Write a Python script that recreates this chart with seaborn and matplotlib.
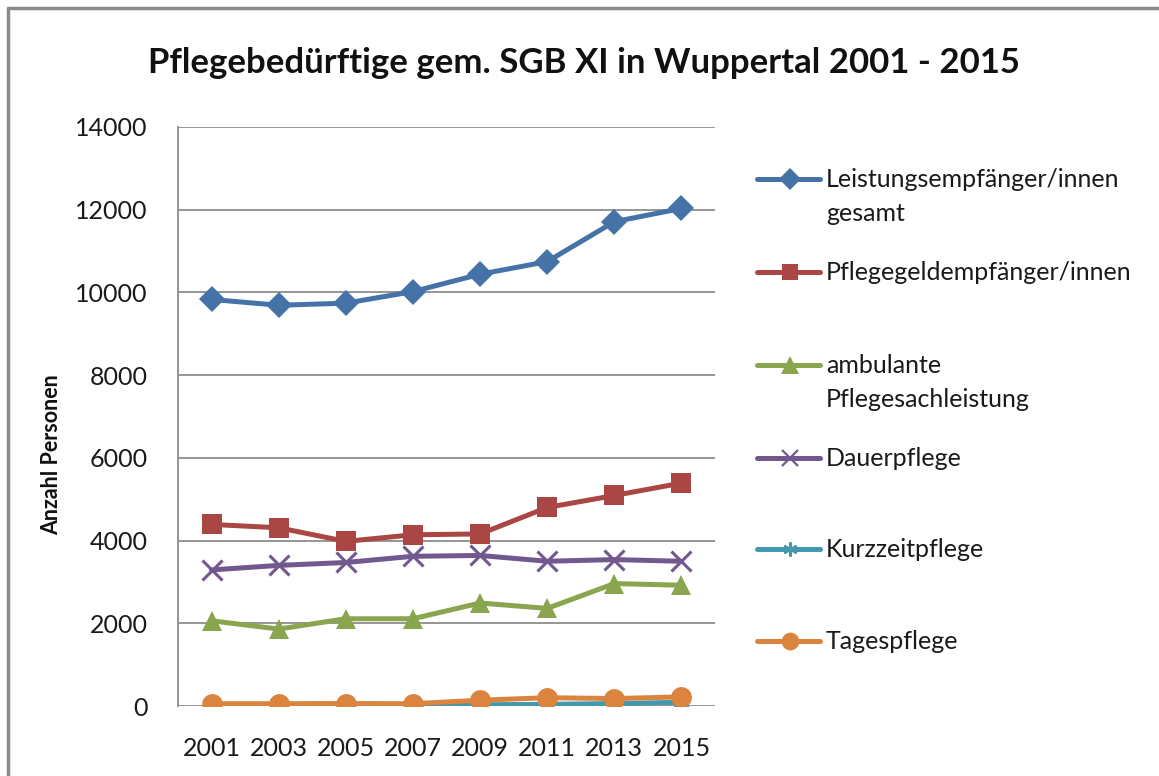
import numpy as np
import pandas as pd
import matplotlib
matplotlib.use("Agg")
import matplotlib.pyplot as plt
from matplotlib.lines import Line2D
import seaborn as sns

years = [2001, 2003, 2005, 2007, 2009, 2011, 2013, 2015]
series_names = [
    "Leistungsempfänger/innen\ngesamt",
    "Pflegegeldempfänger/innen",
    "ambulante\nPflegesachleistung",
    "Dauerpflege",
    "Kurzzeitpflege",
    "Tagespflege",
]
leistung = [9830, 9690, 9740, 10020, 10440, 10745, 11710, 12030]
pflegegeld = [4390, 4310, 3980, 4140, 4160, 4800, 5090, 5390]
ambulant = [2060, 1860, 2110, 2110, 2490, 2360, 2960, 2920]
dauer = [3290, 3400, 3470, 3620, 3640, 3500, 3540, 3500]
kurzzeit = [10, 10, 15, 20, 30, 40, 60, 90]
tages = [55, 55, 60, 55, 140, 200, 180, 220]
yticks = [0, 2000, 4000, 6000, 8000, 10000, 12000, 14000]

values = [leistung, pflegegeld, ambulant, dauer, kurzzeit, tages]
colors = ["#4572A7", "#AA4643", "#89A54E", "#71588F", "#4198AF", "#DB843D"]
markers = ["D", "s", "^", "x", (6, 2, 0), "o"]
msizes = [13, 14, 15, 14, 12, 15]

sns.set_theme(style="white")
plt.rcParams["font.family"] = ["Lato", "DejaVu Sans"]

fig = plt.figure(figsize=(11.59, 7.76), dpi=100)
ax = fig.add_axes([178 / 1159, 1 - 706 / 776, (715 - 178) / 1159, (706 - 127) / 776])

xidx = np.arange(len(years))
frames = []
for name, vals in zip(series_names, values):
    frames.append(pd.DataFrame({"x": xidx, "value": vals, "series": name}))
df = pd.concat(frames, ignore_index=True)

draw_order = [0, 1, 3, 2, 4, 5]
for i in draw_order:
    sub = df[df["series"] == series_names[i]]
    sns.lineplot(data=sub, x="x", y="value", ax=ax, color=colors[i],
                 marker=markers[i], markersize=msizes[i], linewidth=3.6,
                 markeredgewidth=2.2 if i in (3, 4) else 0,
                 markeredgecolor=colors[i], legend=False, zorder=3 + i)

ax.set_xlim(-0.5, len(years) - 0.5)
ax.set_ylim(0, 14000)
ax.set_xticks(xidx)
ax.set_xticklabels([str(y) for y in years], fontsize=18, color="#1a1a1a")
ax.set_yticks(yticks)
ax.set_yticklabels([str(v) for v in yticks], fontsize=18, color="#1a1a1a")
ax.tick_params(axis="x", length=0, pad=22)
ax.tick_params(axis="y", length=0, pad=22)
ax.grid(axis="y", color="#8c8c8c", linewidth=1.3)
ax.set_axisbelow(True)
for s in ["top", "right", "bottom"]:
    ax.spines[s].set_visible(False)
ax.spines["left"].set_color("#8c8c8c")
ax.spines["left"].set_linewidth(1.3)
ax.set_xlabel("")
ax.set_ylabel("Anzahl Personen", fontsize=15.5, fontweight="bold", color="#111111")
ax.yaxis.set_label_coords((62 - 178) / 537, (706 - 455) / 579)

fig.text(584 / 1159, 1 - 63 / 776, "Pflegebedürftige gem. SGB XI in Wuppertal 2001 - 2015",
         ha="center", va="center", fontsize=25, fontweight="bold", color="#111111")

# legend drawn manually (handles on first text line, equal spacing)
leg_y = [179, 272, 365, 458, 549, 641]
for i, yy in enumerate(leg_y):
    yf = 1 - yy / 776
    ln = Line2D([757 / 1159, 790 / 1159, 820 / 1159], [yf, yf, yf], transform=fig.transFigure,
                color=colors[i], linewidth=3.6, marker=markers[i], markevery=[1],
                markersize=msizes[i] * 0.85, markeredgewidth=1.6 if i in (3, 4) else 0,
                markeredgecolor=colors[i])
    fig.add_artist(ln)
    fig.text(826 / 1159, 1 - (yy - 11) / 776, series_names[i], ha="left", va="top",
             fontsize=18, color="#1a1a1a", linespacing=1.6)

# outer chart frame
fig.add_artist(Line2D([8 / 1159, 8 / 1159], [0, 1 - 8 / 776], transform=fig.transFigure,
                      color="#8a8a8a", linewidth=2.5))
fig.add_artist(Line2D([8 / 1159, 1], [1 - 8 / 776, 1 - 8 / 776], transform=fig.transFigure,
                      color="#8a8a8a", linewidth=2.5))

fig.savefig("out.png", dpi=100)
